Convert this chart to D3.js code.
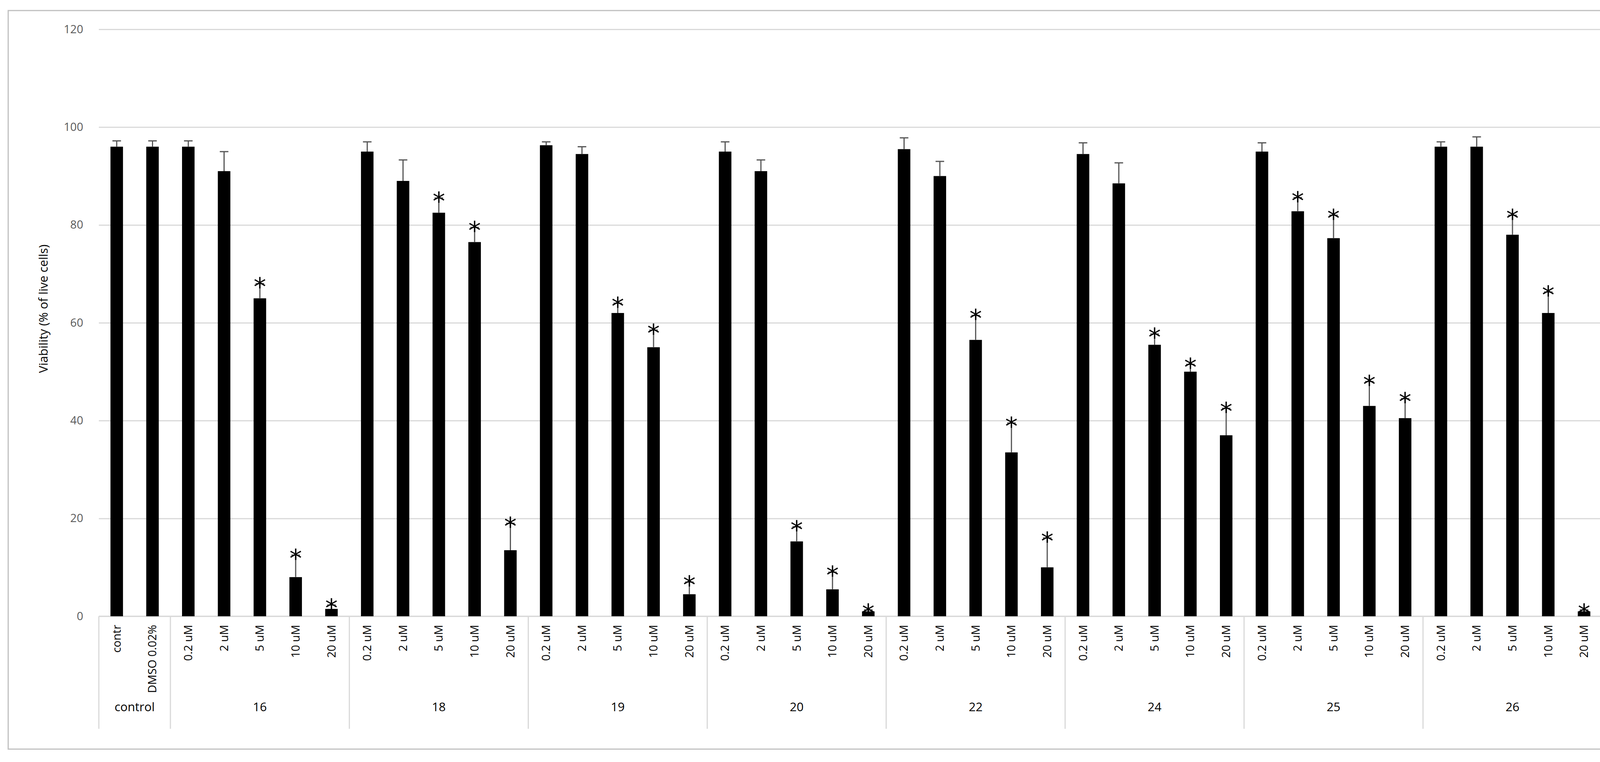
<!DOCTYPE html>
<html lang="en">
  <head>
    <title>Viability</title>
    <script type="text/javascript" src="https://d3js.org/d3.v7.min.js"></script>
    <style>body{margin:0;background:#fff;}</style>
  </head>
  <body>
    <div id="chart"></div>
    <script>
      // groups and their dose labels
      const groups = ["control", "16", "18", "19", "20", "22", "24", "25", "26"];
      const doseLabels = ["0.2 uM", "2 uM", "5 uM", "10 uM", "20 uM"];
      const controlLabels = ["contr", "DMSO 0.02%"];

      // viability per group (control first, then 5 doses each)
      const values = [
        [96, 96],
        [96, 91, 65, 8, 1.5],
        [95, 89, 82.5, 76.5, 13.5],
        [96.3, 94.5, 62, 55, 4.5],
        [95, 91, 15.3, 5.5, 1],
        [95.5, 90, 56.5, 33.5, 10],
        [94.5, 88.5, 55.5, 50, 37],
        [95, 82.8, 77.3, 43, 40.5],
        [96, 96, 78, 62, 1]
      ];
      const errors = [
        [1.2, 1.2],
        [1.2, 4, 3, 4.5, 0.8],
        [2, 4.3, 3, 3, 5.5],
        [0.7, 1.5, 2, 3.5, 2.5],
        [2, 2.3, 3, 3.5, 0.3],
        [2.3, 3, 5, 6, 6],
        [2.3, 4.2, 2.2, 1.5, 5.5],
        [1.8, 2.8, 4.7, 5, 4],
        [1, 2, 4, 4.3, 0.3]
      ];
      const significant = [
        [0, 0],
        [0, 0, 1, 1, 1],
        [0, 0, 1, 1, 1],
        [0, 0, 1, 1, 1],
        [0, 0, 1, 1, 1],
        [0, 0, 1, 1, 1],
        [0, 0, 1, 1, 1],
        [0, 1, 1, 1, 1],
        [0, 0, 1, 1, 1]
      ];
      const yTicks = [0, 20, 40, 60, 80, 100, 120];

      // flatten into one row per bar
      let bars = [];
      groups.forEach(function(g, gi) {
        values[gi].forEach(function(v, i) {
          bars.push({
            id: g + "|" + i,
            group: g,
            label: gi === 0 ? controlLabels[i] : doseLabels[i],
            value: v,
            err: errors[gi][i],
            star: significant[gi][i] === 1
          });
        });
      });

      const W = 4176, H = 1950;
      const plotLeft = 253, plotRight = 4101, plotTop = 75, base = 1577;
      const catBottom = 1865;

      let svg = d3.select("#chart").append("svg")
        .attr("width", W).attr("height", H)
        .style("font-family", "'Open Sans', sans-serif");

      // outer frame
      svg.append("rect")
        .attr("x", 21).attr("y", 27).attr("width", 4134).attr("height", 1890)
        .attr("fill", "#fff").attr("stroke", "#bfbfbf").attr("stroke-width", 3);

      let x = d3.scaleBand()
        .domain(bars.map(d => d.id))
        .range([plotLeft, plotRight])
        .paddingInner(0.65).paddingOuter(0.325);

      let y = d3.scaleLinear().domain([0, 120]).range([base, plotTop]);

      // gridlines + y labels
      let yAxis = svg.append("g")
        .attr("transform", "translate(" + plotLeft + ",0)")
        .call(d3.axisLeft(y).tickValues(yTicks).tickSize(-(plotRight - plotLeft)).tickPadding(40));
      yAxis.select(".domain").remove();
      yAxis.selectAll("line").attr("stroke", "#d9d9d9").attr("stroke-width", 3);
      yAxis.selectAll("text").attr("font-size", 29).attr("fill", "#595959")
        .attr("font-family", "'Open Sans', sans-serif");

      svg.append("text")
        .attr("transform", "translate(122,790) rotate(-90)")
        .attr("text-anchor", "middle")
        .attr("font-size", 31).attr("fill", "#000")
        .text("Viability (% of live cells)");

      // category separators
      let step = x.step();
      let boundaries = [plotLeft];
      let idx = 0;
      values.forEach(function(v) { idx += v.length; boundaries.push(plotLeft + step * idx); });
      svg.selectAll(".sep").data(boundaries).join("line")
        .attr("x1", d => d).attr("x2", d => d)
        .attr("y1", base).attr("y2", catBottom)
        .attr("stroke", "#d9d9d9").attr("stroke-width", 3);
      svg.append("line")
        .attr("x1", plotLeft).attr("x2", plotRight).attr("y1", base).attr("y2", base)
        .attr("stroke", "#d9d9d9").attr("stroke-width", 3);

      // bars
      svg.selectAll(".bar").data(bars).join("rect")
        .attr("x", d => x(d.id))
        .attr("width", x.bandwidth())
        .attr("y", d => y(d.value))
        .attr("height", d => base - y(d.value))
        .attr("fill", "#000");

      // error bars (upper only)
      let half = x.bandwidth() / 2;
      svg.selectAll(".err").data(bars).join("path")
        .attr("d", d => {
          let cx = x(d.id) + half, y0 = y(d.value), y1 = y(d.value + d.err);
          return "M" + cx + "," + y0 + "V" + y1 + "M" + (cx - 11) + "," + y1 + "H" + (cx + 11);
        })
        .attr("stroke", "#555").attr("stroke-width", 3).attr("fill", "none");

      // stars
      svg.selectAll(".star").data(bars.filter(d => d.star)).join("text")
        .attr("x", d => x(d.id) + half)
        .attr("y", d => y(d.value + d.err) + 30)
        .attr("text-anchor", "middle")
        .attr("font-size", 64).attr("fill", "#000")
        .attr("font-family", "'DejaVu Sans', sans-serif")
        .text("*");

      // dose labels, rotated
      svg.selectAll(".cat").data(bars).join("text")
        .attr("transform", d => "translate(" + (x(d.id) + half + 10) + "," + (base + 22) + ") rotate(-90)")
        .attr("text-anchor", "end")
        .attr("font-size", 29).attr("fill", "#000")
        .text(d => d.label);

      // group labels
      svg.selectAll(".grp").data(groups).join("text")
        .attr("x", (d, i) => (boundaries[i] + boundaries[i + 1]) / 2)
        .attr("y", 1820)
        .attr("text-anchor", "middle")
        .attr("font-size", 31).attr("fill", "#000")
        .text(d => d);
    </script>
  </body>
</html>
